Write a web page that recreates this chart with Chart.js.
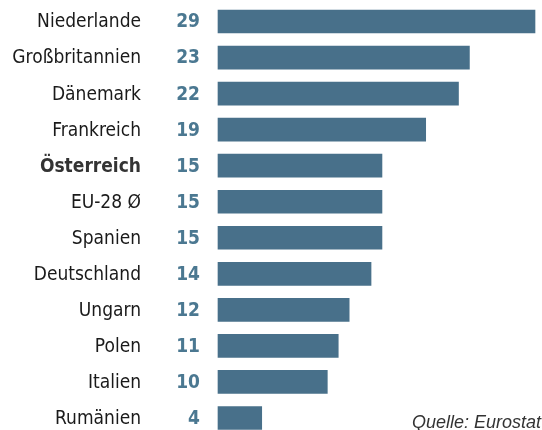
<!DOCTYPE html>
<html lang="de">
<head>
    <meta charset="UTF-8">
    <title>Anteil</title>
    <script src="https://cdn.jsdelivr.net/npm/chart.js"></script>
    <style>
        html, body {
            margin: 0;
            padding: 0;
            background: #ffffff;
        }
        #wrap {
            position: relative;
            width: 542px;
            height: 430px;
        }
    </style>
</head>
<body>
    <div id="wrap">
        <canvas id="grafik"></canvas>
    </div>

    <script>
        const laender = ["Niederlande", "Großbritannien", "Dänemark", "Frankreich", "Österreich", "EU-28 Ø",
            "Spanien", "Deutschland", "Ungarn", "Polen", "Italien", "Rumänien"];
        const werte = [29, 23, 22, 19, 15, 15, 15, 14, 12, 11, 10, 4];
        const hervorgehoben = "Österreich";
        const quelle = "Quelle: Eurostat";

        const schrift = '"DejaVu Sans Condensed", "Liberation Sans Narrow", sans-serif';

        // Ländernamen und Werte links neben den Balken
        const beschriftung = {
            id: "beschriftung",
            afterDatasetsDraw(chart) {
                const ctx = chart.ctx;
                const y = chart.scales.y;
                ctx.save();
                ctx.textBaseline = "middle";
                laender.forEach((land, i) => {
                    const py = y.getPixelForValue(i);
                    const fett = land === hervorgehoben;
                    ctx.textAlign = "right";
                    ctx.fillStyle = fett ? "#333333" : "#1a1a1a";
                    ctx.font = (fett ? "bold " : "") + "19px " + schrift;
                    ctx.fillText(land, 141, py + 1);
                    ctx.fillStyle = "#4b7891";
                    ctx.font = "bold 19px " + schrift;
                    ctx.fillText(String(werte[i]), 200, py + 1);
                });
                ctx.textAlign = "right";
                ctx.textBaseline = "alphabetic";
                ctx.fillStyle = "#333333";
                ctx.font = 'italic 18px "Liberation Sans", Arial, sans-serif';
                ctx.fillText(quelle, 541, 428);
                ctx.restore();
            }
        };

        new Chart(document.getElementById("grafik"), {
            type: "bar",
            data: {
                labels: laender,
                datasets: [{
                    data: werte,
                    backgroundColor: "#48708a",
                    barThickness: 23,
                    borderWidth: 0,
                    clip: false
                }]
            },
            options: {
                indexAxis: "y",
                responsive: true,
                maintainAspectRatio: false,
                animation: false,
                layout: {
                    padding: { left: 218, right: 7, top: 21.5, bottom: 12 }
                },
                plugins: {
                    legend: { display: false },
                    tooltip: { enabled: false }
                },
                scales: {
                    x: { display: false, min: 0, max: 29 },
                    y: { display: false, offset: false }
                }
            },
            plugins: [beschriftung]
        });
    </script>
</body>
</html>
